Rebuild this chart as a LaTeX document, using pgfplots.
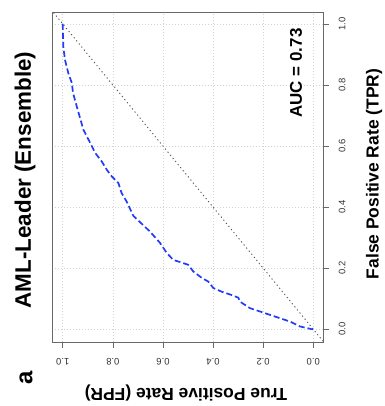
\documentclass[border=0pt]{standalone}
\usepackage{fontspec}
\setmainfont{Liberation Sans}
\usepackage{pgfplots}
\pgfplotsset{compat=1.18}
\definecolor{roc}{RGB}{35,60,250}
\definecolor{framec}{RGB}{105,105,105}
\definecolor{diagc}{RGB}{85,85,85}
\begin{document}
\begin{tikzpicture}
\useasboundingbox (-52bp,-64bp) rectangle (333bp,342bp);
\begin{axis}[
  at={(0,0)}, anchor=south west,
  scale only axis, width=271bp, height=330bp,
  x dir=reverse,
  xmin=-0.039, xmax=1.043, ymin=-0.042, ymax=1.039,
  xtick={0,0.2,0.4,0.6,0.8,1}, ytick={0,0.2,0.4,0.6,0.8,1},
  xticklabels={0.0,0.2,0.4,0.6,0.8,1.0},
  yticklabels={0.0,0.2,0.4,0.6,0.8,1.0},
  xtick pos=lower, ytick pos=right, yticklabel pos=right,
  tick align=outside, major tick length=6bp,
  tick style={framec, line width=0.6bp},
  axis line style={framec, line width=0.7bp},
  grid=major,
  grid style={gray!35, dash pattern=on 1bp off 2bp, line width=0.6bp},
  /pgf/number format/assume math mode=true,
  ticklabel style={font=\fontsize{9.5}{11}\selectfont, text=black!80},
  xticklabel style={rotate=180, anchor=center, yshift=13.5bp},
  yticklabel style={rotate=90, anchor=center, yshift=-13bp},
  clip=true,
]
\addplot[diagc, dash pattern=on 1.2bp off 2.8bp, line width=0.9bp] coordinates {(-0.06,-0.06) (1.06,1.06)};
\addplot[roc, line width=1.7bp, dash pattern=on 6bp off 3bp] coordinates {
(1.0,1.0) (0.998,0.926) (0.991,0.882) (0.978,0.839) (0.964,0.807) (0.959,0.774)
(0.944,0.729) (0.931,0.692) (0.918,0.654) (0.891,0.611) (0.871,0.578) (0.844,0.549)
(0.824,0.522) (0.804,0.500) (0.778,0.479) (0.765,0.446) (0.745,0.418) (0.718,0.371)
(0.652,0.320) (0.612,0.283) (0.585,0.250) (0.559,0.227) (0.525,0.218) (0.499,0.211)
(0.479,0.189) (0.445,0.168) (0.419,0.156) (0.399,0.135) (0.366,0.123) (0.326,0.112)
(0.299,0.103) (0.292,0.090) (0.253,0.069) (0.213,0.058) (0.173,0.047) (0.133,0.036)
(0.093,0.025) (0.053,0.009) (0.006,0.0) (0.0,0.0)
};
\end{axis}
\node[rotate=180, font=\bfseries\fontsize{17.5}{20}\selectfont] at (134bp,-51bp) {True Positive Rate (FPR)};
\node[rotate=90, font=\bfseries\fontsize{17.5}{20}\selectfont] at (322bp,168bp) {False Positive Rate (TPR)};
\node[rotate=90, font=\bfseries\fontsize{22.5}{26}\selectfont] at (-27bp,162bp) {AML-Leader (Ensemble)};
\node[rotate=90, font=\bfseries\fontsize{17}{20}\selectfont] at (244bp,269bp) {AUC = 0.73};
\node[rotate=90, font=\bfseries\fontsize{24}{28}\selectfont] at (-26bp,-36bp) {a};
\end{tikzpicture}
\end{document}
